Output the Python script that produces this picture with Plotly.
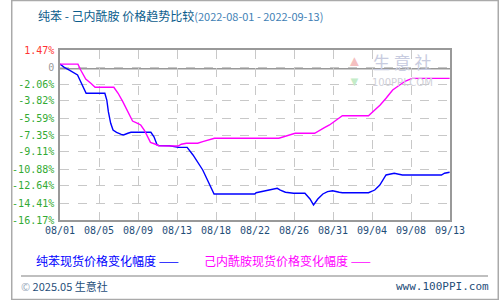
import plotly.graph_objects as go

# ---- data (x in tick-index units: 0 = 08/01 ... 10 = 09/13) ----
x_labels = ["08/01", "08/05", "08/09", "08/13", "08/18", "08/22", "08/26",
            "08/31", "09/04", "09/08", "09/13"]
y_ticks = [1.47, -0.30, -2.06, -3.82, -5.59, -7.35, -9.11, -10.88, -12.64, -14.41, -16.17]
y_labels = ["1.47%", "0", "-2.06%", "-3.82%", "-5.59%", "-7.35%", "-9.11%",
            "-10.88%", "-12.64%", "-14.41%", "-16.17%"]

benzene_x = [0.00, 0.11, 0.24, 0.36, 0.45, 0.51, 0.60, 0.67, 1.15, 1.20, 1.24, 1.30, 1.36,
             1.45, 1.57, 1.63, 1.74, 1.82, 2.33, 2.41, 2.49, 2.53, 2.81, 3.04, 3.26, 3.41,
             3.66, 3.83, 3.95, 4.99, 5.03, 5.24, 5.40, 5.57, 5.65, 5.78, 5.99, 6.28, 6.41,
             6.50, 6.61, 6.74, 6.86, 6.99, 7.16, 7.24, 7.91, 8.07, 8.20, 8.36, 8.57, 8.78,
             9.78, 9.86, 9.99]
benzene_y = [0.00, -0.33, -0.61, -0.95, -1.12, -1.64, -2.34, -3.02, -3.02, -3.72, -4.93,
             -6.14, -6.83, -7.07, -7.28, -7.35, -7.17, -7.07, -7.07, -7.53, -8.39, -8.44,
             -8.46, -8.63, -8.63, -9.42, -10.98, -12.36, -13.47, -13.47, -13.34, -13.16,
             -13.03, -12.88, -13.06, -13.29, -13.40, -13.40, -13.99, -14.61, -13.99, -13.47,
             -13.23, -13.13, -13.29, -13.34, -13.34, -13.06, -12.54, -11.50, -11.32, -11.50,
             -11.50, -11.32, -11.22]

capro_x = [0.00, 0.46, 0.53, 0.66, 0.79, 0.90, 1.38, 1.49, 1.61, 1.74, 1.83, 1.86, 1.99,
           2.07, 2.16, 2.24, 2.32, 2.45, 2.53, 3.03, 3.11, 3.24, 3.53, 3.66, 3.83, 3.96,
           5.61, 5.70, 5.82, 5.96, 6.03, 6.53, 6.65, 6.78, 6.91, 7.03, 7.17, 7.24, 7.91,
           8.03, 8.21, 8.36, 8.53, 8.71, 8.86, 9.03, 9.99]
capro_y = [0.00, 0.00, -0.61, -1.54, -1.99, -2.40, -2.40, -3.02, -3.89, -4.93, -5.79, -5.90,
           -6.14, -6.31, -6.83, -7.53, -8.11, -8.31, -8.46, -8.49, -8.31, -8.21, -8.21, -8.04,
           -7.87, -7.69, -7.69, -7.59, -7.45, -7.28, -7.17, -7.17, -6.93, -6.59, -6.31, -5.97,
           -5.51, -5.35, -5.35, -4.93, -4.24, -3.54, -2.68, -2.16, -1.75, -1.47, -1.47]

ZERO_LINE = -0.48

W, H = 500, 300
L, R, T, B = 50, 50, 50, 80
PW, PH = W - L - R, H - T - B


def px(x):
    return (x - L) / PW


def py(y):
    return (H - B - y) / PH


fig = go.Figure()
fig.add_trace(go.Scatter(x=benzene_x, y=benzene_y, mode="lines",
                         line=dict(color="#0000ff", width=1.4), showlegend=False))
fig.add_trace(go.Scatter(x=capro_x, y=capro_y, mode="lines",
                         line=dict(color="#ff00ff", width=1.4), showlegend=False))

y_colors = ["#ff3333", "#999999"] + ["#33aa33"] * (len(y_labels) - 2)
y_text = [f'<span style="color:{c}">{t}</span>' for t, c in zip(y_labels, y_colors)]

fig.update_xaxes(range=[0, 10], tickmode="array", tickvals=list(range(len(x_labels))),
                 ticktext=x_labels, showgrid=True, gridcolor="#c8c8c8", griddash="dash",
                 gridwidth=1, showline=True, linecolor="#999999", linewidth=1.5, mirror=True,
                 ticks="", zeroline=False,
                 tickfont=dict(family="DejaVu Sans Mono, Noto Sans CJK SC", size=10, color="#1f4e79"))
fig.update_yaxes(range=[y_ticks[-1], y_ticks[0]], tickmode="array", tickvals=y_ticks,
                 ticktext=y_text, showgrid=True, gridcolor="#c8c8c8", griddash="dash",
                 gridwidth=1, showline=True, linecolor="#999999", linewidth=1.5, mirror=True,
                 ticks="", zeroline=False, ticklabelstandoff=2,
                 tickfont=dict(family="DejaVu Sans Mono, Noto Sans CJK SC", size=10))

shapes = [
    dict(type="line", xref="paper", yref="y", x0=0, x1=1, y0=ZERO_LINE, y1=ZERO_LINE,
         line=dict(color="#999999", width=1.5), layer="below"),
    dict(type="line", xref="paper", yref="paper", x0=px(10), x1=px(489), y0=py(276), y1=py(276),
         line=dict(color="#aaaaaa", width=1.5)),
    dict(type="rect", xref="paper", yref="paper", x0=px(0.5), x1=px(499.5), y0=py(299.5),
         y1=py(0.5), line=dict(color="#aaaaaa", width=1.5)),
]

cjk = "Noto Sans CJK SC"
annotations = [
    dict(xref="paper", yref="paper", x=px(25), y=py(15), xanchor="left", yanchor="middle",
         showarrow=False,
         text='<span style="color:#0b5d8c">纯苯 - 己内酰胺 价格趋势比较</span>'
              '<span style="color:#3f7fb5;font-size:11px">(2022-08-01 - 2022-09-13)</span>',
         font=dict(family=cjk, size=12)),
    dict(xref="paper", yref="paper", x=px(23), y=py(260), xanchor="left", yanchor="middle",
         showarrow=False, text="纯苯现货价格变化幅度 ——",
         font=dict(family=cjk, size=12, color="#0000ff")),
    dict(xref="paper", yref="paper", x=px(196), y=py(260), xanchor="left", yanchor="middle",
         showarrow=False, text="己内酰胺现货价格变化幅度 ——",
         font=dict(family=cjk, size=12, color="#ff00ff")),
    dict(xref="paper", yref="paper", x=px(8), y=py(286), xanchor="left", yanchor="middle",
         showarrow=False, text='<span style="color:#9ab">©</span> 2025.05 生意社',
         font=dict(family=cjk, size=11, color="#1f4e79")),
    dict(xref="paper", yref="paper", x=px(492), y=py(286), xanchor="right", yanchor="middle",
         showarrow=False, text="www.100PPI.com",
         font=dict(family="DejaVu Sans Mono", size=11, color="#1f4e79")),
    # watermark
    dict(xref="paper", yref="paper", x=px(352), y=py(60), xanchor="center", yanchor="middle",
         showarrow=False, text="▲", font=dict(size=15, color="#f5c0c0")),
    dict(xref="paper", yref="paper", x=px(352), y=py(81), xanchor="center", yanchor="middle",
         showarrow=False, text="▼", font=dict(size=13, color="#c4ecc8")),
    dict(xref="paper", yref="paper", x=px(401), y=py(62), xanchor="center", yanchor="middle",
         showarrow=False, text="生 意 社", font=dict(family=cjk, size=17, color="#c8cce0")),
    dict(xref="paper", yref="paper", x=px(401), y=py(82), xanchor="center", yanchor="middle",
         showarrow=False, text="100PPI.COM", font=dict(family="DejaVu Sans", size=10, color="#d0d0d8")),
]

fig.update_layout(width=W, height=H, margin=dict(l=L, r=R, t=T, b=B),
                  plot_bgcolor="white", paper_bgcolor="white",
                  shapes=shapes, annotations=annotations, showlegend=False)

fig.write_html("out.html")
